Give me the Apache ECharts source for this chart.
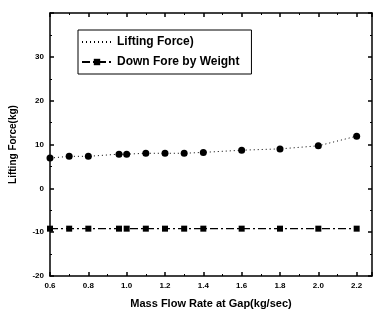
<!DOCTYPE html>
<html><head><meta charset="utf-8">
<script src="https://cdn.jsdelivr.net/npm/echarts@6/dist/echarts.min.js"></script>
<style>html,body{margin:0;padding:0;background:#fff}#c{width:374px;height:320px}</style>
</head><body><div id="c"></div>
<script>
const massFlow = [0.6, 0.7, 0.8, 0.96, 1.0, 1.1, 1.2, 1.3, 1.4, 1.6, 1.8, 2.0, 2.2];
const liftingForce = [6.9, 7.3, 7.3, 7.8, 7.8, 8.0, 8.0, 8.0, 8.2, 8.7, 9.0, 9.7, 11.9];
const downForce = [-9.2, -9.2, -9.2, -9.2, -9.2, -9.2, -9.2, -9.2, -9.2, -9.2, -9.2, -9.2, -9.2];
const seriesNames = ['Lifting Force)', 'Down Fore by Weight'];

const font = 'Liberation Sans, Arial, sans-serif';
const chart = echarts.init(document.getElementById('c'));
const pair = (xs, ys) => xs.map((x, i) => [x, ys[i]]);
const baseAxis = {
  axisLine: {show: true, onZero: false, lineStyle: {color: '#000', width: 1.5}},
  splitLine: {show: false},
  axisTick: {show: true, inside: true, length: 4, lineStyle: {color: '#000', width: 1.5}},
  minorTick: {show: true, splitNumber: 2, length: 2, lineStyle: {color: '#000'}}
};
chart.setOption({
  animation: false,
  grid: {left: 48, right: 2, top: 13, bottom: 44, show: false},
  legend: {
    left: 78, top: 30, orient: 'vertical', itemGap: 8,
    borderColor: '#000', borderWidth: 1, padding: [6, 12, 6, 3],
    itemWidth: 30, itemHeight: 8,
    textStyle: {fontFamily: font, fontSize: 12, fontWeight: 'bold', color: '#000'},
    data: [
      {name: seriesNames[0], itemStyle: {opacity: 0}},
      {name: seriesNames[1]}
    ]
  },
  xAxis: [
    Object.assign({}, baseAxis, {
      type: 'value', min: 0.6, max: 2.28, interval: 0.2,
      name: 'Mass Flow Rate at Gap(kg/sec)', nameLocation: 'middle', nameGap: 22,
      nameTextStyle: {fontFamily: font, fontSize: 11, fontWeight: 'bold', color: '#000'},
      axisLabel: {fontFamily: font, fontSize: 8, fontWeight: 'bold', color: '#000', margin: 6,
        showMaxLabel: false, formatter: v => v.toFixed(1)}
    }),
    Object.assign({}, baseAxis, {
      type: 'value', position: 'top', min: 0.6, max: 2.28, interval: 0.2,
      axisLabel: {show: false}
    })
  ],
  yAxis: [
    Object.assign({}, baseAxis, {
      type: 'value', min: -20, max: 40, interval: 10,
      name: 'Lifting Force(kg)', nameLocation: 'middle', nameGap: 32,
      nameTextStyle: {fontFamily: font, fontSize: 10, fontWeight: 'bold', color: '#000'},
      axisLabel: {fontFamily: font, fontSize: 8, fontWeight: 'bold', color: '#000', margin: 6,
        showMaxLabel: false}
    }),
    Object.assign({}, baseAxis, {
      type: 'value', position: 'right', min: -20, max: 40, interval: 10,
      axisLabel: {show: false}
    })
  ],
  series: [
    {
      name: seriesNames[0], type: 'line', data: pair(massFlow, liftingForce),
      symbol: 'circle', symbolSize: 7, itemStyle: {color: '#000'},
      lineStyle: {color: '#000', width: 1, type: [1, 3]}
    },
    {
      name: seriesNames[1], type: 'line', data: pair(massFlow, downForce),
      symbol: 'rect', symbolSize: 6, itemStyle: {color: '#000'},
      lineStyle: {color: '#000', width: 1.2, type: [8, 3, 2, 3]}
    }
  ]
});
</script></body></html>
